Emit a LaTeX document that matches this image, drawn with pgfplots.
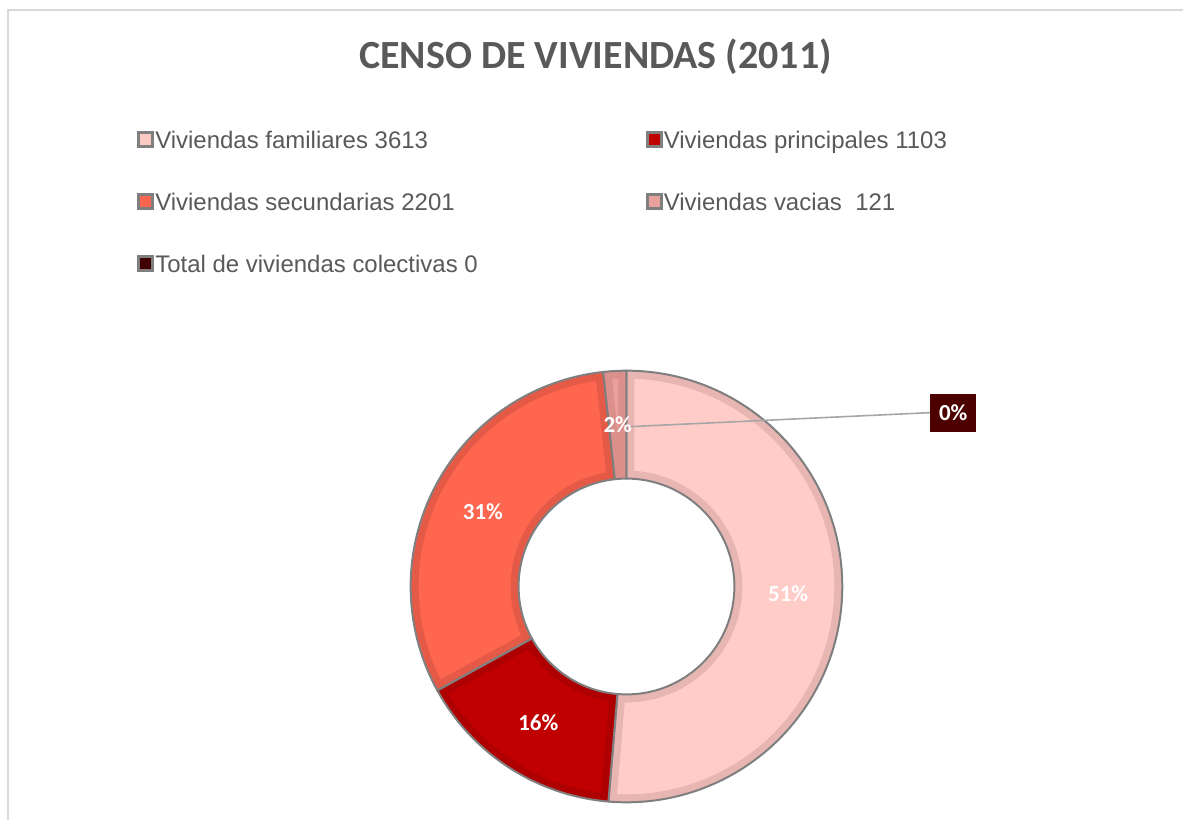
\documentclass[border=0pt]{standalone}
\usepackage{fontspec}
\setmainfont{Liberation Sans}
\newfontfamily\carlito{Carlito}
\usepackage{pgfplots}
\pgfplotsset{compat=1.18}
\definecolor{txtgray}{HTML}{595959}
\definecolor{edgegray}{HTML}{7F7F7F}
\definecolor{framegray}{HTML}{D9D9D9}
\definecolor{cFam}{HTML}{FFCCC8}
\definecolor{bFam}{HTML}{E8B6B2}
\definecolor{cPri}{HTML}{C00000}
\definecolor{bPri}{HTML}{AE0000}
\definecolor{cSec}{HTML}{FF6650}
\definecolor{bSec}{HTML}{E55A47}
\definecolor{cVac}{HTML}{E9A19D}
\definecolor{bVac}{HTML}{DC908C}
\definecolor{cCol}{HTML}{4D0000}

\begin{document}
\begin{tikzpicture}
% censo de viviendas 2011
\pgfmathsetmacro{\vA}{3613}% familiares
\pgfmathsetmacro{\vB}{1103}% principales
\pgfmathsetmacro{\vC}{2201}% secundarias
\pgfmathsetmacro{\vD}{121}% vacias
\pgfmathsetmacro{\vE}{0}% colectivas
\pgfmathsetmacro{\tot}{\vA+\vB+\vC+\vD+\vE}
\pgfmathsetmacro{\aA}{90}
\pgfmathsetmacro{\aB}{\aA-360*(\vA/\tot)}
\pgfmathsetmacro{\aC}{\aB-360*(\vB/\tot)}
\pgfmathsetmacro{\aD}{\aC-360*(\vC/\tot)}
\pgfmathsetmacro{\aE}{\aD-360*(\vD/\tot)}
% label angles and percentages
\pgfmathsetmacro{\mA}{(\aA+\aB)/2}
\pgfmathsetmacro{\mB}{(\aB+\aC)/2}
\pgfmathsetmacro{\mC}{(\aC+\aD)/2}
\pgfmathsetmacro{\mD}{(\aD+\aE)/2}
\pgfmathtruncatemacro{\pA}{round(100*(\vA/\tot))}
\pgfmathtruncatemacro{\pB}{round(100*(\vB/\tot))}
\pgfmathtruncatemacro{\pC}{round(100*(\vC/\tot))}
\pgfmathtruncatemacro{\pD}{round(100*(\vD/\tot))}
\pgfmathtruncatemacro{\pE}{round(100*(\vE/\tot))}

\newcommand{\ring}[2]{([shift={(#1:108pt)}]C) arc[start angle=#1,end angle=#2,radius=108pt]
  -- ([shift={(#2:54pt)}]C) arc[start angle=#2,end angle=#1,radius=54pt] -- cycle}
\newcommand{\sector}[4]{%
  \begin{scope}
    \clip \ring{#1}{#2};
    \fill[#3] \ring{#1}{#2};
    \draw[#4, line width=8pt] \ring{#1}{#2};
  \end{scope}
  \draw[edgegray, line width=1pt, line join=round] \ring{#1}{#2};}
\newcommand{\pct}[2]{%
  \node[text=white, font=\carlito\bfseries\fontsize{11.5}{13}\selectfont]
    at ([shift={(#1:81pt)}]C) {#2\%};}
\newcommand{\legitem}[4]{%
  \draw[edgegray, fill=#3, line width=1.4pt] (axis cs:#1-7,#2-7) rectangle (axis cs:#1+7,#2+7);
  \node[anchor=base west, inner sep=0pt, text=txtgray, font=\fontsize{12}{14}\selectfont]
    at (axis cs:#1+9,#2+8.5) {#4};}

\begin{axis}[
  hide axis, scale only axis, clip=false,
  x=0.5pt, y=0.5pt, y dir=reverse,
  xmin=0, xmax=1184, ymin=0, ymax=821,
]
\path (axis cs:0,0) rectangle (axis cs:1184,821);
\draw[framegray, line width=1pt] (axis cs:8,821) -- (axis cs:8,10) -- (axis cs:1184,10);

\node[text=txtgray, font=\carlito\bfseries\fontsize{20}{24}\selectfont]
  at (axis cs:596,57) {CENSO DE VIVIENDAS (2011)};

\legitem{146}{140}{cFam!85!bFam}{Viviendas familiares 3613}
\legitem{655}{140}{cPri}{Viviendas principales 1103}
\legitem{146}{202}{cSec!85!bSec}{Viviendas secundarias 2201}
\legitem{655}{202}{cVac}{Viviendas vacias~~121}
\legitem{146}{264}{cCol!80!black}{Total de viviendas colectivas 0}

\coordinate (C) at (axis cs:627,587);
\sector{\aA}{\aB}{cFam}{bFam}
\sector{\aB}{\aC}{cPri}{bPri}
\sector{\aC}{\aD}{cSec}{bSec}
\sector{\aD}{\aE}{cVac}{bVac}

\pct{\mA}{\pA}
\pct{\mB}{\pB}
\pct{\mC}{\pC}
\pct{\mD}{\pD}

% colectivas (0) label callout
\draw[gray!70, line width=0.8pt] (axis cs:631,427) -- (axis cs:931,413);
\node[fill=cCol, text=white, inner sep=0pt, minimum width=23pt, minimum height=19pt,
  font=\carlito\bfseries\fontsize{11.5}{13}\selectfont] at (axis cs:954,413) {\pE\%};
\end{axis}
\end{tikzpicture}
\end{document}
